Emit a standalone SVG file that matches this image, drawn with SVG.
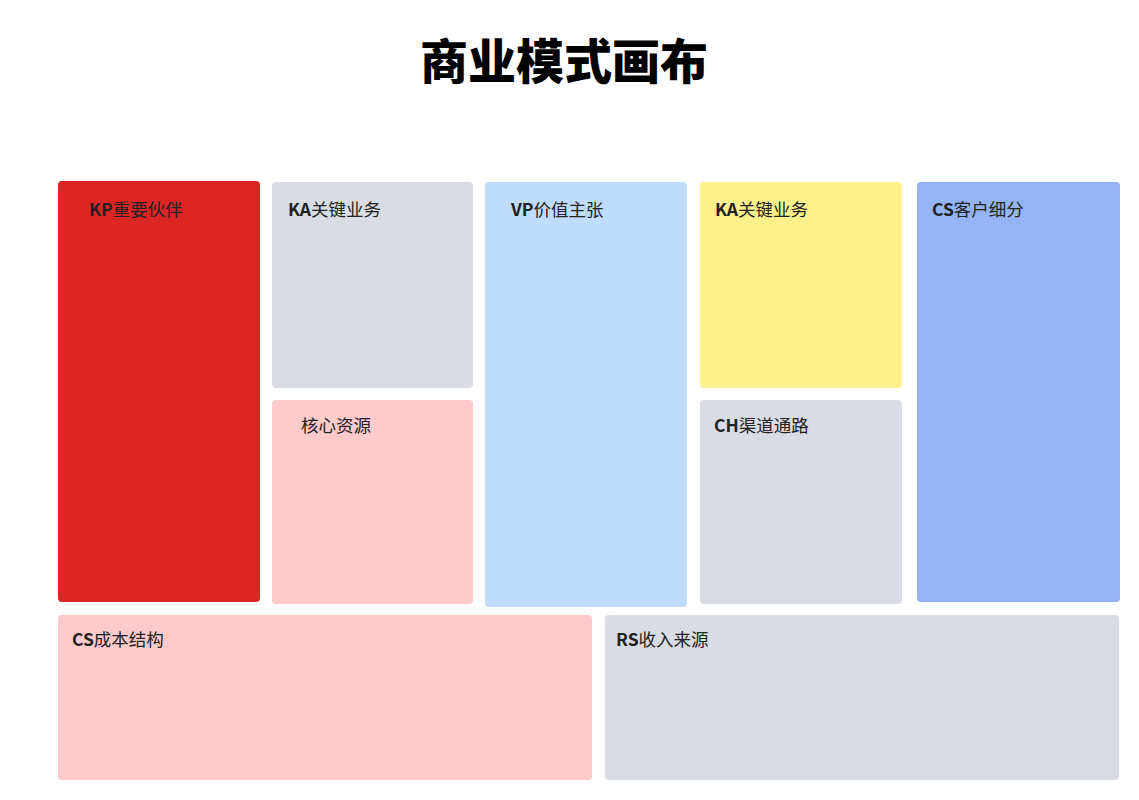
<svg xmlns="http://www.w3.org/2000/svg" width="1139" height="800" viewBox="0 0 1139 800">
<style>
  .lbl{font-family:"Noto Sans CJK SC","Noto Sans",sans-serif;font-size:17.5px;fill:#222;}
  .b{font-weight:bold;}
  .title{font-family:"Noto Sans CJK SC","Noto Sans",sans-serif;font-size:48px;font-weight:900;fill:#000;}
</style>
<rect width="1139" height="800" fill="#fff"/>
<text class="title" x="564" y="79" text-anchor="middle">商业模式画布</text>
<g id="kp"><rect x="58" y="181" width="202" height="421" rx="4" fill="#dc2626"/><text class="lbl" x="89" y="216"><tspan class="b">KP</tspan>重要伙伴</text></g>
<g id="ka1"><rect x="272" y="182" width="201" height="206" rx="4" fill="#d9dce3"/><text class="lbl" x="288" y="216"><tspan class="b">KA</tspan>关键业务</text></g>
<g id="kr"><rect x="272" y="400" width="201" height="204" rx="4" fill="#fecaca"/><text class="lbl" x="301" y="432">核心资源</text></g>
<g id="vp"><rect x="485" y="182" width="202" height="425" rx="4" fill="#bfdbfe"/><text class="lbl" x="511" y="216"><tspan class="b">VP</tspan>价值主张</text></g>
<g id="ka2"><rect x="700" y="182" width="202" height="206" rx="4" fill="#fef08a"/><text class="lbl" x="715" y="216"><tspan class="b">KA</tspan>关键业务</text></g>
<g id="ch"><rect x="700" y="400" width="202" height="204" rx="4" fill="#d9dce3"/><text class="lbl" x="714" y="432"><tspan class="b">CH</tspan>渠道通路</text></g>
<g id="cs"><rect x="917" y="182" width="203" height="420" rx="4" fill="#94b4f6"/><text class="lbl" x="932" y="216"><tspan class="b">CS</tspan>客户细分</text></g>
<g id="cost"><rect x="58" y="615" width="534" height="165" rx="4" fill="#fecaca"/><text class="lbl" x="72" y="646"><tspan class="b">CS</tspan>成本结构</text></g>
<g id="rs"><rect x="605" y="615" width="514" height="165" rx="4" fill="#d9dce3"/><text class="lbl" x="616" y="646"><tspan class="b">RS</tspan>收入来源</text></g>
<g id="connectors"/>
</svg>
